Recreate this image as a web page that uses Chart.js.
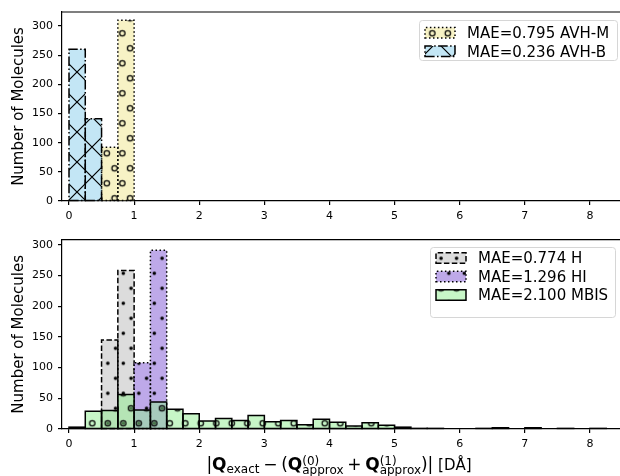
<!DOCTYPE html>
<html>
<head>
<meta charset="utf-8">
<script src="https://cdn.jsdelivr.net/npm/chart.js@4.4.1/dist/chart.umd.min.js"></script>
<style>
html,body{margin:0;padding:0;background:#fff;overflow:hidden}
canvas{position:absolute;left:0}
#topChart{top:0}
#botChart{top:228px}
</style>
</head>
<body>
<canvas id="topChart" width="620" height="228"></canvas>
<canvas id="botChart" width="620" height="248"></canvas>
<script>
// histogram bins (width 0.25)
const binCenters=[0.125,0.375,0.625,0.875,1.125,1.375,1.625,1.875,2.125,2.375,2.625,2.875,
3.125,3.375,3.625,3.875,4.125,4.375,4.625,4.875,5.125,5.375,5.625,5.875,
6.125,6.375,6.625,6.875,7.125,7.375,7.625,7.875,8.125,8.375]
const xTicks=[0,1,2,3,4,5,6,7,8]
const yTicks=[0,50,100,150,200,250,300]

// top panel
const avhM=[0,0,92,310,0,0,0,0,0,0,0,0,0,0,0,0,0,0,0,0,0,0,0,0,0,0,0,0,0,0,0,0,0,0]
const avhB=[260,141,0,0,0,0,0,0,0,0,0,0,0,0,0,0,0,0,0,0,0,0,0,0,0,0,0,0,0,0,0,0,0,0]
const topLabels=['MAE=0.795 AVH-M','MAE=0.236 AVH-B']

// bottom panel
const hVals=[0,0,145,258,0,0,0,0,0,0,0,0,0,0,0,0,0,0,0,0,0,0,0,0,0,0,0,0,0,0,0,0,0,0]
const hiVals=[0,0,0,0,108,291,0,0,0,0,0,0,0,0,0,0,0,0,0,0,0,0,0,0,0,0,0,0,0,0,0,0,0,0]
const mbisVals=[3,29,30,56,31,44,32,25,13,17,14,22,12,14,7,16,11,5,10,6,3,1,1,0,0,1,2,0,2,0,1,0,1,0]
const botLabels=['MAE=0.774 H','MAE=1.296 HI','MAE=2.100 MBIS']

const FONT='DejaVu Sans'
Chart.defaults.font.family=FONT
Chart.defaults.color='#000'

function hatch(kind,fill,tx,ty){
  const c=document.createElement('canvas')
  const w=kind==='x'?30:31,h=30
  c.width=w;c.height=h
  const g=c.getContext('2d')
  g.fillStyle=fill;g.fillRect(0,0,w,h)
  g.strokeStyle='#000';g.fillStyle='#000';g.lineWidth=1.2
  if(kind==='x'){
    g.beginPath()
    for(const o of [-30,0,30]){g.moveTo(o,0);g.lineTo(o+30,30);g.moveTo(o,30);g.lineTo(o+30,0)}
    g.stroke()
  }else{
    const pts=[[0,0],[15.5,0],[31,0],[0,30],[15.5,30],[31,30],[7.75,15],[23.25,15]]
    pts.forEach(([x,y])=>{
      g.beginPath()
      g.arc(x,y,kind==='o'?2.7:1.8,0,Math.PI*2)
      if(kind==='o')g.stroke();else g.fill()
    })
  }
  const p=g.createPattern(c,'repeat')
  p.setTransform(new DOMMatrix().translate(tx,ty))
  return p
}

const DOT=[1.5,2.5],DASH=[5.5,2.4],DASHDOT=[9.6,2.4,1.5,2.4]

const topSets=[
  {label:topLabels[0],vals:avhM,fill:hatch('o','rgba(240,230,140,0.5)',13.8,3.3),dash:DOT},
  {label:topLabels[1],vals:avhB,fill:hatch('x','rgba(135,206,235,0.5)',17,12),dash:DASHDOT}
]
const botSets=[
  {label:botLabels[0],vals:hVals,fill:hatch('.','rgba(211,211,211,0.8)',14.8,15.3),dash:DASH},
  {label:botLabels[1],vals:hiVals,fill:hatch('.','rgba(147,112,219,0.6)',14.8,15.3),dash:DOT},
  {label:botLabels[2],vals:mbisVals,fill:hatch('o','rgba(144,238,144,0.5)',14.7,15.3),dash:[]}
]

function edgePath(ctx,l,r,t,b){
  ctx.beginPath()
  ctx.moveTo(l,b);ctx.lineTo(r,b);ctx.lineTo(r,t);ctx.lineTo(l,t);ctx.closePath()
  ctx.stroke()
}

function drawXTitle(ctx){
  const M=17,S=12,base=241.5
  const items=[
    {t:'|',s:M,dy:0},{t:'Q',s:M,b:1,dy:0},{t:'exact',s:S,dy:3},{gap:3.7},
    {t:'\u2212',s:M,dy:0},{gap:3.7},{t:'(',s:M,dy:0},{t:'Q',s:M,b:1,dy:0},
    {sup:'(0)',sub:'approx'},{gap:3.7},{t:'+',s:M,dy:0},{gap:3.7},
    {t:'Q',s:M,b:1,dy:0},{sup:'(1)',sub:'approx'},{t:')|',s:M,dy:0},{t:' [DÅ]',s:15,dy:0}
  ]
  const font=(s,b)=>(b?'bold ':'')+s+'px "'+FONT+'"'
  const width=it=>{
    if(it.gap)return it.gap
    if(it.sup){ctx.font=font(S);return Math.max(ctx.measureText(it.sup).width,ctx.measureText(it.sub).width)}
    ctx.font=font(it.s,it.b);return ctx.measureText(it.t).width
  }
  let total=0
  items.forEach(it=>total+=width(it))
  let x=339-total/2
  ctx.save()
  ctx.fillStyle='#000';ctx.textAlign='left';ctx.textBaseline='alphabetic'
  items.forEach(it=>{
    const w=width(it)
    if(it.sup){
      ctx.font=font(S)
      ctx.fillText(it.sup,x,base-5)
      ctx.fillText(it.sub,x,base+4.5)
    }else if(it.t){
      ctx.font=font(it.s,it.b)
      ctx.fillText(it.t,x,base+it.dy)
    }
    x+=w
  })
  ctx.restore()
}

function framePlugin(sets,legend,withTitle){
  return {
    id:'frame',
    afterDatasetDraw(chart,args){
      const s=sets[args.index],ctx=chart.ctx
      ctx.save()
      ctx.strokeStyle='#000';ctx.lineWidth=1.5;ctx.setLineDash(s.dash)
      args.meta.data.forEach((el,i)=>{
        if(!s.vals[i])return
        edgePath(ctx,el.x-el.width/2,el.x+el.width/2,el.y,el.base)
      })
      ctx.restore()
    },
    afterDraw(chart){
      const ctx=chart.ctx,a=chart.chartArea
      ctx.save()
      // top spine
      ctx.strokeStyle='#000';ctx.lineWidth=1.2
      ctx.beginPath();ctx.moveTo(a.left,a.top);ctx.lineTo(a.right+2,a.top);ctx.stroke()
      // y title
      ctx.fillStyle='#000'
      ctx.font='15px "'+FONT+'"'
      ctx.translate(23.3,(a.top+a.bottom)/2)
      ctx.rotate(-Math.PI/2)
      ctx.textAlign='center';ctx.textBaseline='alphabetic'
      ctx.fillText('Number of Molecules',0,0)
      ctx.restore()
      // legend
      ctx.save()
      const L=legend
      ctx.beginPath()
      ctx.roundRect(L.x+0.5,L.y+0.5,L.w,L.h,3)
      ctx.fillStyle='rgba(255,255,255,0.8)';ctx.fill()
      ctx.strokeStyle='#d6d6d6';ctx.lineWidth=1;ctx.stroke()
      sets.forEach((s,i)=>{
        const cy=L.rows[i]
        ctx.fillStyle=s.fill
        ctx.fillRect(L.hx,cy-5.2,30,10.4)
        ctx.strokeStyle='#000';ctx.lineWidth=1.5;ctx.setLineDash(s.dash)
        edgePath(ctx,L.hx,L.hx+30,cy-5.2,cy+5.2)
        ctx.setLineDash([])
        ctx.fillStyle='#000';ctx.font='15px "'+FONT+'"'
        ctx.textAlign='left';ctx.textBaseline='alphabetic'
        ctx.fillText(s.label,L.hx+42,cy+5.4)
      })
      ctx.restore()
      if(withTitle)drawXTitle(ctx)
    }
  }
}

function makeChart(id,sets,yMax,padTop,xH,legend,withTitle){
  const tickFont={family:FONT,size:11}
  const axisCommon={
    grid:{drawOnChartArea:false,drawTicks:true,tickLength:4,color:'#000',lineWidth:1.2,offset:false},
    border:{display:true,color:'#000',width:1.2}
  }
  return new Chart(document.getElementById(id),{
    type:'bar',
    data:{
      datasets:sets.map((s,i)=>({
        label:s.label,
        data:binCenters.map((x,k)=>({x:x,y:s.vals[k]})),
        backgroundColor:s.fill,
        borderWidth:0,
        inflateAmount:0,
        barPercentage:1,
        categoryPercentage:1,
        grouped:false,
        order:sets.length-i
      }))
    },
    plugins:[framePlugin(sets,legend,withTitle)],
    options:{
      responsive:false,
      animation:false,
      devicePixelRatio:1,
      layout:{padding:{top:padTop,left:0,right:0,bottom:0}},
      plugins:{legend:{display:false},tooltip:{enabled:false}},
      scales:{
        x:{
          type:'linear',min:-0.1075,max:8.461,offset:false,
          afterBuildTicks:s=>{s.ticks=xTicks.map(v=>({value:v}))},
          afterFit:s=>{s.height=xH},
          ticks:{font:tickFont,color:'#000',padding:5,maxRotation:0,autoSkip:false},
          ...axisCommon
        },
        y:{
          min:0,max:yMax,
          afterBuildTicks:s=>{s.ticks=yTicks.map(v=>({value:v}))},
          afterFit:s=>{s.width=62},
          ticks:{font:tickFont,color:'#000',padding:5},
          ...axisCommon
        }
      }
    }
  })
}

makeChart('topChart',topSets,324,12,27,{x:419,y:20,w:198,h:40,hx:425,rows:[32.8,51.2]},false)
makeChart('botChart',botSets,308.5,9,47,{x:430,y:19,w:185,h:70,hx:436,rows:[30,48.5,67]},true)
</script>
</body>
</html>
